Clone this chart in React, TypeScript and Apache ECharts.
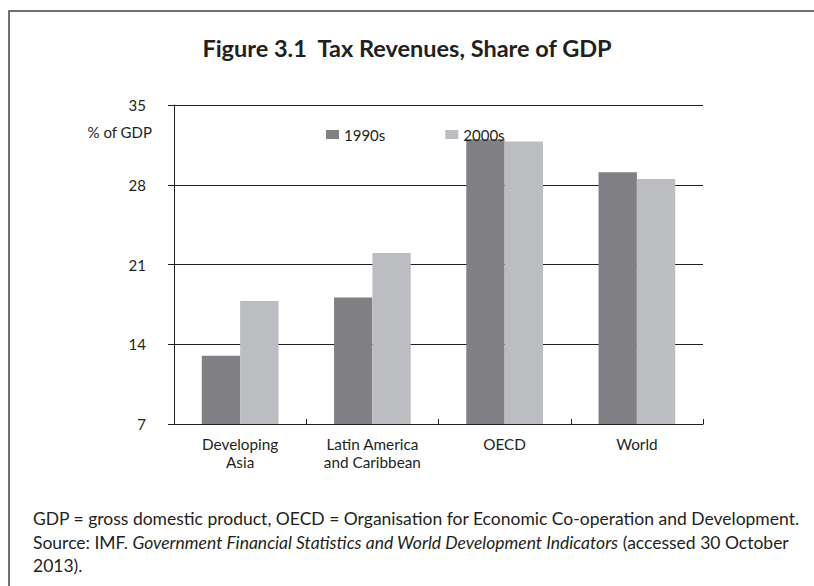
import React, { useEffect, useRef } from "react";
import * as echarts from "echarts";

const categories = ["Developing\nAsia", "Latin America\nand Caribbean", "OECD", "World"];
const series1990s = [13.0, 18.1, 32.0, 29.1];
const series2000s = [17.8, 22.0, 31.8, 28.5];
const seriesNames = ["1990s", "2000s"];
const yMin = 7;
const yMax = 35;
const yInterval = 7;

const FONT = "Lato, 'Open Sans', sans-serif";
const INK = "#231f20";

export default function App() {
  const ref = useRef<HTMLDivElement>(null);
  useEffect(() => {
    if (!ref.current) return;
    const chart = echarts.init(ref.current, null, { renderer: "svg" });
    chart.setOption({
      animation: false,
      backgroundColor: "#ffffff",
      textStyle: { fontFamily: FONT, color: INK },
      title: {
        text: "Figure 3.1  Tax Revenues, Share of GDP",
        left: "center",
        top: 31,
        textStyle: { fontFamily: FONT, fontSize: 23.5, fontWeight: "bold", color: INK },
      },
      legend: {
        data: seriesNames,
        left: 321,
        top: 122,
        itemWidth: 13,
        itemHeight: 9,
        itemGap: 60,
        icon: "rect",
        textStyle: { fontFamily: FONT, fontSize: 15, color: INK },
      },
      grid: { left: 174, right: 111, top: 105, bottom: 162, containLabel: false },
      xAxis: {
        type: "category",
        data: categories,
        axisLine: { lineStyle: { color: INK, width: 1 } },
        axisTick: { show: true, inside: true, length: 5, alignWithLabel: false, lineStyle: { color: INK } },
        axisLabel: { fontFamily: FONT, fontSize: 15.3, color: INK, margin: 11, lineHeight: 18, interval: 0 },
      },
      yAxis: {
        type: "value",
        min: yMin,
        max: yMax,
        interval: yInterval,
        axisLine: { show: true, lineStyle: { color: INK, width: 1 } },
        axisTick: { show: true, length: 6, lineStyle: { color: INK } },
        axisLabel: { fontFamily: FONT, fontSize: 15, color: INK, margin: 28 },
        splitLine: { show: true, lineStyle: { color: INK, width: 1 } },
      },
      series: [
        {
          name: seriesNames[0],
          type: "bar",
          data: series1990s,
          barGap: "0%",
          barCategoryGap: "42%",
          itemStyle: { color: "#808084" },
        },
        {
          name: seriesNames[1],
          type: "bar",
          data: series2000s,
          barGap: "0%",
          barCategoryGap: "42%",
          itemStyle: { color: "#bcbdc1" },
        },
      ],
      graphic: [
        {
          type: "rect",
          shape: { x: 9, y: 11, width: 830, height: 620 },
          style: { fill: "none", stroke: "#444444", lineWidth: 1.5 },
          silent: true,
        },
        {
          type: "text",
          x: 152,
          y: 132,
          style: {
            text: "% of GDP",
            align: "right",
            verticalAlign: "middle",
            font: `15px ${FONT}`,
            fill: INK,
          },
        },
        {
          type: "text",
          x: 33,
          y: 518,
          style: {
            text: "GDP = gross domestic product, OECD = Organisation for Economic Co-operation and Development.",
            verticalAlign: "middle",
            font: `17.5px ${FONT}`,
            fill: INK,
          },
        },
        {
          type: "text",
          x: 33,
          y: 542,
          style: {
            text: "Source: IMF. {i|Government Financial Statistics and World Development Indicators} (accessed 30 October",
            verticalAlign: "middle",
            font: `17.5px ${FONT}`,
            fill: INK,
            rich: { i: { fontStyle: "italic", fontSize: 17.5, fontFamily: FONT, fill: INK } },
          },
        },
        {
          type: "text",
          x: 33,
          y: 565,
          style: {
            text: "2013).",
            verticalAlign: "middle",
            font: `17.5px ${FONT}`,
            fill: INK,
          },
        },
      ],
    });
    return () => chart.dispose();
  }, []);
  return (
    <div
      ref={ref}
      style={{ position: "fixed", left: 0, top: 0, width: 814, height: 586 }}
    />
  );
}
